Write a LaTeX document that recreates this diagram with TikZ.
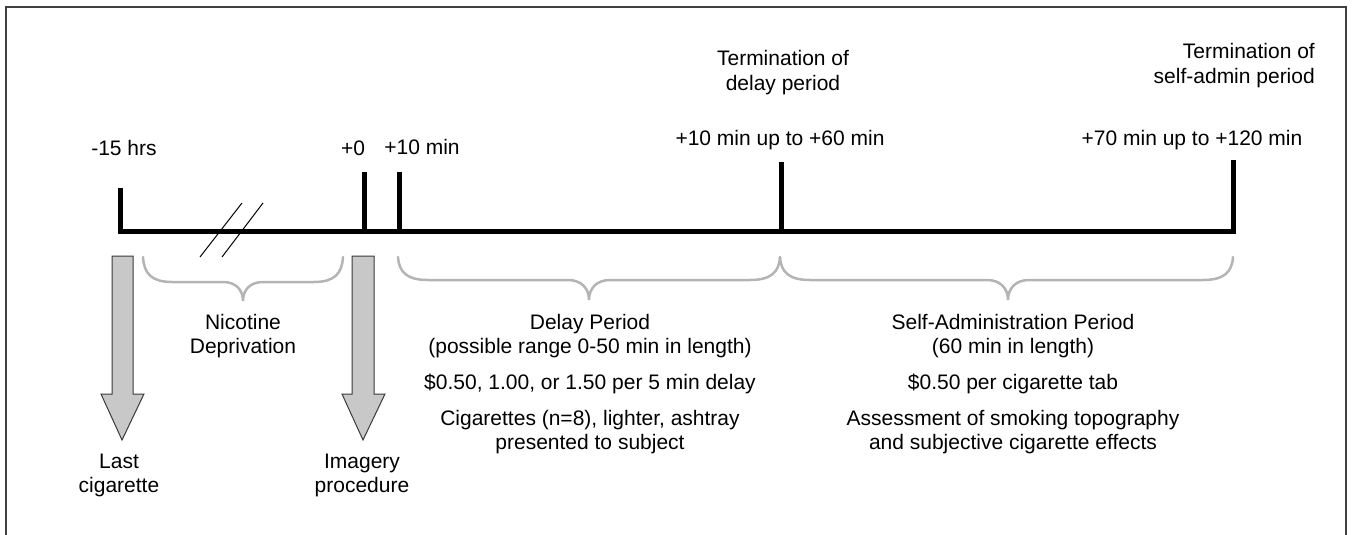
\documentclass[tikz,border=0pt]{standalone}
\usepackage{fontspec}
\setmainfont{Liberation Sans}
\definecolor{framec}{HTML}{404040}
\definecolor{bracec}{HTML}{B4B4B4}
\definecolor{arrowfill}{HTML}{C8C8C8}
\definecolor{arrowline}{HTML}{3A3A3A}
\begin{document}
\begin{tikzpicture}[x=1pt,y=-1pt,
  lbl/.style={anchor=base,inner sep=0pt,font=\fontsize{21}{24}\selectfont},
  lblr/.style={anchor=base east,inner sep=0pt,font=\fontsize{21}{24}\selectfont},
  tline/.style={line width=5pt,black,line join=miter,line cap=rect},
  tick/.style={line width=5pt,black},
  bracestyle/.style={line width=2.5pt,bracec,line cap=round},
  blockarrow/.style={fill=arrowfill,draw=arrowline,line width=1pt,line join=miter},
  slash/.style={line width=1pt,black}]
\useasboundingbox (0,0) rectangle (1352,535);
% frame
\draw[framec,line width=1.4pt] (6,535) -- (6,7) -- (1346,7) -- (1346,535);

% timeline
\coordinate (tA) at (120,190);
\coordinate (tB) at (120,231);
\coordinate (tC) at (1233,231);
\coordinate (tD) at (1233,162);
\draw[tline] (tA) -- (tB) -- (tC) -- (tD);
\coordinate (k0a) at (364,172); \coordinate (k0b) at (364,231);
\coordinate (k1a) at (399,172); \coordinate (k1b) at (399,231);
\coordinate (k2a) at (781,162); \coordinate (k2b) at (781,231);
\draw[tick] (k0a) -- (k0b);
\draw[tick] (k1a) -- (k1b);
\draw[tick] (k2a) -- (k2b);

% break slashes
\draw[slash] (200,257) -- (242,203);
\draw[slash] (222,257) -- (263,203);

% top labels
\node[lbl] (m15) at (124,155) {-15 hrs};
\node[lbl] (p0) at (353,155) {+0};
\node[lbl] (p10) at (422,154) {+10 min};
\node[lbl] (p1060) at (780,145) {+10 min up to +60 min};
\node[lbl] (p70120) at (1192,145) {+70 min up to +120 min};
\node[lbl] (td1) at (783,66) {Termination of};
\node[lbl] (td2) at (783,90) {delay period};
\node[lblr] (ts1) at (1315,59) {Termination of};
\node[lblr] (ts2) at (1315,84) {self-admin period};

% braces
\draw[bracestyle] (143,257) .. controls (144,274) and (152,282) .. (172,282) -- (223,282)
  .. controls (236,282) and (243,290) .. (243,301)
  .. controls (243,290) and (250,282) .. (263,282) -- (314,282)
  .. controls (334,282) and (342,274) .. (343,257);
\draw[bracestyle] (398,257) .. controls (399,273) and (408,280) .. (428,280) -- (568,280)
  .. controls (581,280) and (589,288) .. (589,300)
  .. controls (589,288) and (597,280) .. (610,280) -- (750,280)
  .. controls (770,280) and (779,273) .. (780,257);
\draw[bracestyle] (780,257) .. controls (781,273) and (790,280) .. (810,280) -- (987,280)
  .. controls (1000,280) and (1008,288) .. (1008,300)
  .. controls (1008,288) and (1016,280) .. (1029,280) -- (1203,280)
  .. controls (1223,280) and (1232,273) .. (1233,257);

% block arrows
\draw[blockarrow] (112,256) -- (133,256) -- (133,394) -- (144,394) -- (122,440) -- (101,394) -- (112,394) -- cycle;
\draw[blockarrow] (352,256) -- (374,256) -- (374,394) -- (385,394) -- (363,440) -- (342,394) -- (352,394) -- cycle;

% lower labels
\node[lbl] (lc1) at (119,468) {Last};
\node[lbl] (lc2) at (119,492) {cigarette};
\node[lbl] (im1) at (362,468) {Imagery};
\node[lbl] (im2) at (362,492) {procedure};
\node[lbl] (nd1) at (243,329) {Nicotine};
\node[lbl] (nd2) at (243,353) {Deprivation};

\node[lbl] (dp1) at (590,329) {Delay Period};
\node[lbl] (dp2) at (590,353) {(possible range 0-50 min in length)};
\node[lbl] (dp3) at (590,389) {\$0.50, 1.00, or 1.50 per 5 min delay};
\node[lbl] (dp4) at (590,425) {Cigarettes (n=8), lighter, ashtray};
\node[lbl] (dp5) at (590,449) {presented to subject};

\node[lbl] (sa1) at (1013,329) {Self-Administration Period};
\node[lbl] (sa2) at (1013,353) {(60 min in length)};
\node[lbl] (sa3) at (1013,389) {\$0.50 per cigarette tab};
\node[lbl] (sa4) at (1013,425) {Assessment of smoking topography};
\node[lbl] (sa5) at (1013,449) {and subjective cigarette effects};
\end{tikzpicture}
\end{document}
